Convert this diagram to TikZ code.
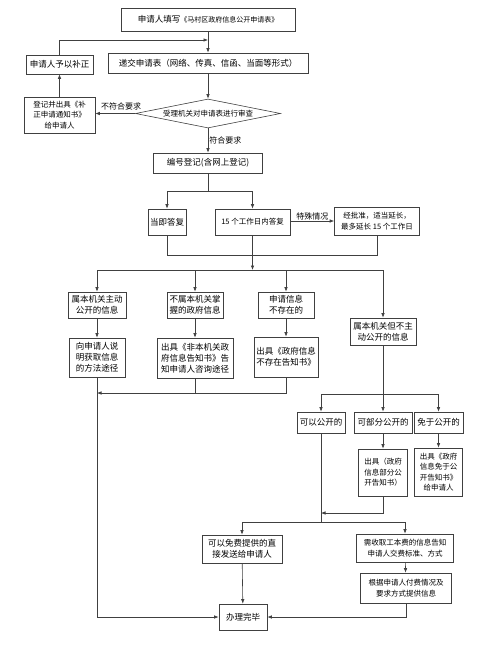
\documentclass[tikz,border=0pt]{standalone}
\usepackage{fontspec}
\setmainfont{Noto Sans CJK SC}
\usetikzlibrary{arrows.meta,shapes.geometric,calc}
\tikzset{
  box/.style={draw=black!75, line width=0.6pt, align=center, inner sep=1pt,
    font=\fontsize{8.5}{11}\selectfont},
  sbox/.style={box, font=\fontsize{7.5}{10.5}\selectfont},
  arr/.style={draw=black!75, line width=0.6pt, -{Latex[length=4.5pt,width=3.5pt]}},
  ln/.style={draw=black!75, line width=0.6pt},
  lbl/.style={font=\fontsize{8}{10}\selectfont, inner sep=1pt}
}
\begin{document}
\begin{tikzpicture}[x=1pt, y=-1pt]
\useasboundingbox (0,0) rectangle (482,650);
\node[box, minimum width=174, minimum height=23] (fill) at (208,19.5) {申请人填写{\fontsize{7}{9}\selectfont《马村区政府信息公开申请表》}};
\node[box, minimum width=200, minimum height=20] (submit) at (208,63) {递交申请表（网络、传真、信函、当面等形式）};
\node[box, minimum width=67, minimum height=19] (fix) at (59.5,64.5) {申请人予以补正};
\node[sbox, minimum width=71, minimum height=36] (notice) at (59.5,115) {登记并出具《补\\正申请通知书》\\给申请人};
\node[draw=black!75, line width=0.6pt, diamond, aspect=5, inner sep=0pt, minimum width=145, minimum height=29, font=\fontsize{7.5}{9}\selectfont] (review) at (208,113.5) {受理机关对申请表进行审查};
\node[box, minimum width=109, minimum height=20] (reg) at (208,163) {编号登记(含网上登记)};
\node[box, minimum width=38, minimum height=26] (now) at (167,222) {当即答复};
\node[sbox, minimum width=75, minimum height=26] (d15) at (252.5,222) {15 个工作日内答复};
\node[sbox, minimum width=85, minimum height=28] (ext) at (377,221) {经批准，适当延长，\\最多延长 15 个工作日};
\node[box, minimum width=58, minimum height=26] (pub) at (97,305) {属本机关主动\\公开的信息};
\node[box, minimum width=56, minimum height=26] (notours) at (195,305) {不属本机关掌\\握的政府信息};
\node[box, minimum width=56, minimum height=26] (none) at (286,305) {申请信息\\不存在的};
\node[box, minimum width=66, minimum height=27] (nonpub) at (383,331.5) {属本机关但不主\\动公开的信息};
\node[box, minimum width=56, minimum height=39] (explain) at (97,357.5) {向申请人说\\明获取信息\\的方法途径};
\node[box, minimum width=76, minimum height=40] (notoursN) at (195,358) {出具《非本机关政\\府信息告知书》告\\知申请人咨询途径};
\node[box, minimum width=64, minimum height=40] (noneN) at (286,357) {出具《政府信息\\不存在告知书》};
\node[box, minimum width=48, minimum height=21] (open) at (321,422.5) {可以公开的};
\node[box, minimum width=58, minimum height=21] (part) at (383,422.5) {可部分公开的};
\node[box, minimum width=49, minimum height=21] (exempt) at (438.5,422.5) {免于公开的};
\node[sbox, minimum width=49, minimum height=47] (partN) at (383,472.5) {出具（政府\\信息部分公\\开告知书）};
\node[sbox, minimum width=48, minimum height=48] (exemptN) at (438.5,472) {出具《政府\\信息免于公\\开告知书》\\给申请人};
\node[box, minimum width=80, minimum height=28] (free) at (242,549) {可以免费提供的直\\接发送给申请人};
\node[sbox, minimum width=97, minimum height=28] (fee) at (405,548) {需收取工本费的信息告知\\申请人交费标准、方式};
\node[sbox, minimum width=91, minimum height=30] (paid) at (406,588) {根据申请人付费情况及\\要求方式提供信息};
\node[box, minimum width=48, minimum height=26] (done) at (243,617) {办理完毕};

\coordinate (j1) at (208,40);
\coordinate (s1) at (208,191);
\coordinate (s2) at (0,255);
\coordinate (s3) at (0,270);
\coordinate (s4) at (0,393);
\coordinate (s5) at (0,394);
\coordinate (s6) at (0,513);
\coordinate (s7) at (0,522);

\draw[arr] (fill) -- (submit);
\draw[arr] (fix.north) |- (j1);
\draw[arr] (submit) -- (review);
\draw[arr] (review.west) -- node[lbl, above=2pt, pos=0.35] {不符合要求} (notice.east |- review.west);
\draw[arr] (notice) -- (fix);
\draw[arr] (review.south) -- node[lbl, right, pos=0.5] {符合要求} (reg.north);
\draw[ln] (reg.south) -- (s1);
\draw[arr] (s1) -| (now.north);
\draw[arr] (s1) -| (d15.north);
\draw[arr] (d15.east |- ext.west) -- node[lbl, above] {特殊情况} (ext.west);
\draw[ln] (now.south) |- (ext.south |- s2) -- (ext.south);
\draw[arr] (d15.south) -- (d15.south |- s3);
\draw[ln] (pub.north |- s3) -- (nonpub.north |- s3);
\foreach \n in {pub,notours,none,nonpub}
  \draw[arr] (\n.north |- s3) -- (\n.north);
\draw[arr] (pub) -- (explain);
\draw[arr] (notours) -- (notoursN);
\draw[arr] (none) -- (noneN);
\draw[ln] (notoursN.south) -- (notoursN.south |- s4);
\draw[arr] (noneN.south) |- (explain.south |- s4);
\draw[arr] (explain.south) |- (done.west);
\draw[ln] (nonpub.south) -- (nonpub.south |- s5);
\draw[ln] (open.north |- s5) -- (exempt.north |- s5);
\foreach \n in {open,part,exempt}
  \draw[arr] (\n.north |- s5) -- (\n.north);
\draw[arr] (part) -- (partN);
\draw[arr] (exempt) -- (exemptN);
\draw[arr] (partN.south) |- (open.south |- s6);
\draw[ln] (open.south) -- (open.south |- s7);
\draw[ln] (free.north |- s7) -- (fee.north |- s7);
\draw[arr] (free.north |- s7) -- (free.north);
\draw[arr] (fee.north |- s7) -- (fee.north);
\draw[arr] (fee) -- (paid);
\draw[arr] (free) -- (done);
\draw[arr] (paid.south) |- (done.east);
\end{tikzpicture}
\end{document}
